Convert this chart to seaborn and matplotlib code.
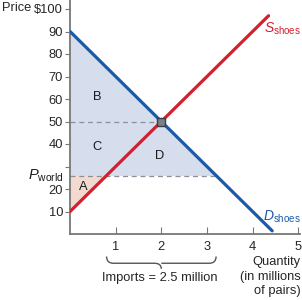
import numpy as np
import pandas as pd
import seaborn as sns
import matplotlib.pyplot as plt
from matplotlib.path import Path
from matplotlib.patches import PathPatch

# curve end points
q_demand = [0.0, 4.43]
p_demand = [90.0, 1.4]
q_supply = [0.0, 4.35]
p_supply = [10.0, 97.0]

p_world = 26
q_eq, p_eq = 2.0, 50.0
q_s_world, q_d_world = 0.8, 3.2   # supply / demand at world price

y_ticks = [10, 20, 30, 40, 50, 60, 70, 80, 90, 100]
y_labels = ['10', '20', '', '40', '50', '60', '70', '80', '90', '$100']
x_ticks = [1, 2, 3, 4, 5]

blue = '#1a5aa6'
red = '#d2202f'
fill_blue = '#d6deee'
fill_red = '#f3d9cf'
fs = 9.3

sns.set_style('ticks')
plt.rcParams['font.family'] = ['Liberation Sans', 'DejaVu Sans']
plt.rcParams['mathtext.fontset'] = 'custom'
plt.rcParams['mathtext.rm'] = 'Liberation Sans'
plt.rcParams['mathtext.it'] = 'Liberation Sans:italic'

fig = plt.figure(figsize=(3.02, 3.0), dpi=100)
ax = fig.add_axes([0.232, 0.22, 0.76, 0.78])

df_d = pd.DataFrame({'q': q_demand, 'p': p_demand})
df_s = pd.DataFrame({'q': q_supply, 'p': p_supply})

# shaded areas
ax.fill_between([0, q_d_world], [p_demand[0], p_world], [p_world, p_world],
                color=fill_blue, lw=0, zorder=1)
ax.fill_between([0, q_s_world], [p_supply[0], p_world], [p_world, p_world],
                color=fill_red, lw=0, zorder=1)

# dashed guides
ax.plot([0, q_eq], [p_eq, p_eq], ls=(0, (4, 3)), color='#8a8f99', lw=0.9, zorder=2)
ax.plot([0, q_d_world], [p_world, p_world], ls=(0, (4, 3)), color='#8a8f99', lw=0.9, zorder=2)

sns.lineplot(data=df_d, x='q', y='p', color=blue, lw=2.3, ax=ax, zorder=3)
sns.lineplot(data=df_s, x='q', y='p', color=red, lw=2.3, ax=ax, zorder=3)
ax.scatter([q_eq], [p_eq], s=38, color='#7b7f86', edgecolor='#3a3d42', lw=1.0, zorder=4, marker='s')

ax.set_xlim(0, 5.03)
ax.set_ylim(0, 104)
ax.set_xlabel('')
ax.set_ylabel('')
ax.set_xticks(x_ticks)
ax.set_xticklabels([str(t) for t in x_ticks])
ax.set_yticks(y_ticks)
ax.set_yticklabels(y_labels)
ax.tick_params(axis='x', direction='in', length=5, color='#777777', labelsize=fs, pad=5)
ax.tick_params(axis='y', direction='out', length=3.5, color='#777777', labelsize=fs, pad=1.5)
for sp in ['top', 'right']:
    ax.spines[sp].set_visible(False)
for sp in ['left', 'bottom']:
    ax.spines[sp].set_color('#777777')
    ax.spines[sp].set_linewidth(1.3)

# area letters
for lab, x, y in [('B', 0.6, 61), ('C', 0.6, 38.5), ('D', 1.97, 34.5), ('A', 0.28, 21)]:
    ax.text(x, y, lab, fontsize=fs, ha='center', va='center', color='#1a1a1a', zorder=5)

ax.text(4.25, 91, r'$\mathit{S}_{\mathrm{shoes}}$', color=red, fontsize=10, ha='left', va='center')
ax.text(4.23, 7.5, r'$\mathit{D}_{\mathrm{shoes}}$', color=blue, fontsize=10, ha='left', va='center')
ax.text(-0.14, p_world, r'$\mathit{P}_{\mathrm{world}}$', fontsize=10.5, ha='right', va='center',
        color='#1a1a1a')
fig.text(0.005, 0.973, 'Price', fontsize=fs, ha='left', va='center')

# brace for imports
y0, yb = -10.0, -13.0
xm = (q_s_world + q_d_world) / 2
verts = [(q_s_world, y0), (q_s_world, yb), (q_s_world + 0.15, yb),
         (xm - 0.15, yb), (xm, yb), (xm, yb - 2.5),
         (xm, yb), (xm + 0.15, yb),
         (q_d_world - 0.15, yb), (q_d_world, yb), (q_d_world, y0)]
codes = [Path.MOVETO, Path.CURVE3, Path.CURVE3,
         Path.LINETO, Path.CURVE3, Path.CURVE3,
         Path.MOVETO, Path.CURVE3,
         Path.LINETO, Path.CURVE3, Path.CURVE3]
ax.add_patch(PathPatch(Path(verts, codes), fill=False, color='#555555', lw=1.0, clip_on=False))
ax.text(xm - 0.03, -19.5, 'Imports = 2.5 million', fontsize=fs, ha='center', va='center')
fig.text(0.995, 0.145, 'Quantity\n(in millions\nof pairs)', fontsize=fs, ha='right', va='top',
         linespacing=1.25)

fig.savefig('out.png', dpi=100)
